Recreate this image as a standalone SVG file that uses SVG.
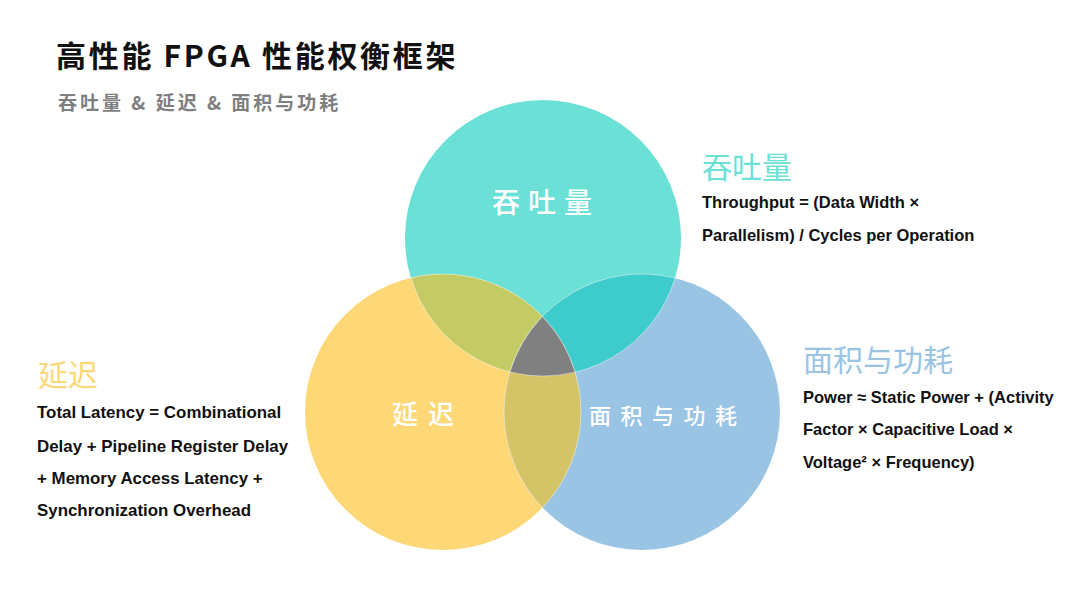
<svg xmlns="http://www.w3.org/2000/svg" width="1080" height="608" viewBox="0 0 1080 608">
<style>
.cjk{font-family:"Noto Sans CJK SC","Noto Sans",sans-serif}
.title{font-size:30px;font-weight:700;fill:#111111;letter-spacing:2.7px}
.sub{font-size:19px;font-weight:700;fill:#7f7f7f;letter-spacing:3px}
.clabel{fill:#ffffff;font-weight:500}
.head{font-size:30px;font-weight:400}
.body{font-family:"Liberation Sans",Arial,sans-serif;font-size:16.5px;font-weight:700;fill:#111111}
.bodyl{font-size:16.9px}
.lens{stroke:#ffffff;stroke-opacity:0.45;stroke-width:1}
</style>
<rect width="1080" height="608" fill="#ffffff"/>
<text class="cjk title" x="56" y="67">高性能 FPGA 性能权衡框架</text>
<text class="cjk sub" x="58" y="110">吞吐量 &amp; 延迟 &amp; 面积与功耗</text>
<g id="circle-throughput"><circle cx="543" cy="238" r="138" fill="#6ae0d6"/></g>
<g id="circle-latency"><circle cx="443" cy="412" r="138" fill="#fed876"/></g>
<g id="circle-area"><circle cx="642" cy="412" r="138" fill="#9ac4e4"/></g>
<g id="overlaps">
<path class="lens" d="M410.9,277.8 A138,138 0 0 1 575.1,372.2 A138,138 0 0 1 410.9,277.8 Z" fill="#c4cb64"/>
<path class="lens" d="M509.9,372 A138,138 0 0 1 675.1,278 A138,138 0 0 1 509.9,372 Z" fill="#3ecbcb"/>
<path class="lens" d="M542.5,316.4 A138,138 0 0 1 542.5,507.6 A138,138 0 0 1 542.5,316.4 Z" fill="#d5c367"/>
<path class="lens" d="M542.5,316.4 A138,138 0 0 1 575.1,372.2 A138,138 0 0 1 509.9,372 A138,138 0 0 1 542.5,316.4 Z" fill="#808080"/>
</g>
<g id="labels">
<text class="cjk clabel" x="492" y="213" font-size="28" letter-spacing="8">吞吐量</text>
<text class="cjk clabel" x="392" y="424" font-size="26" letter-spacing="10">延迟</text>
<text class="cjk clabel" x="589" y="424" font-size="22" letter-spacing="9.5">面积与功耗</text>
</g>
<g id="desc-throughput">
<text class="cjk head" x="702" y="178" fill="#6ae0d6">吞吐量</text>
<text class="body" x="702" y="208">Throughput = (Data Width ×</text>
<text class="body" x="702" y="241">Parallelism) / Cycles per Operation</text>
</g>
<g id="desc-latency">
<text class="cjk head" x="38" y="386" fill="#fed876">延迟</text>
<text class="body bodyl" x="37" y="418">Total Latency = Combinational</text>
<text class="body bodyl" x="37" y="452">Delay + Pipeline Register Delay</text>
<text class="body bodyl" x="37" y="484">+ Memory Access Latency +</text>
<text class="body bodyl" x="37" y="516">Synchronization Overhead</text>
</g>
<g id="desc-area">
<text class="cjk head" x="803" y="371" fill="#9ac4e4">面积与功耗</text>
<text class="body" x="803" y="403">Power ≈ Static Power + (Activity</text>
<text class="body" x="803" y="435">Factor × Capacitive Load ×</text>
<text class="body" x="803" y="468">Voltage² × Frequency)</text>
</g>
</svg>
